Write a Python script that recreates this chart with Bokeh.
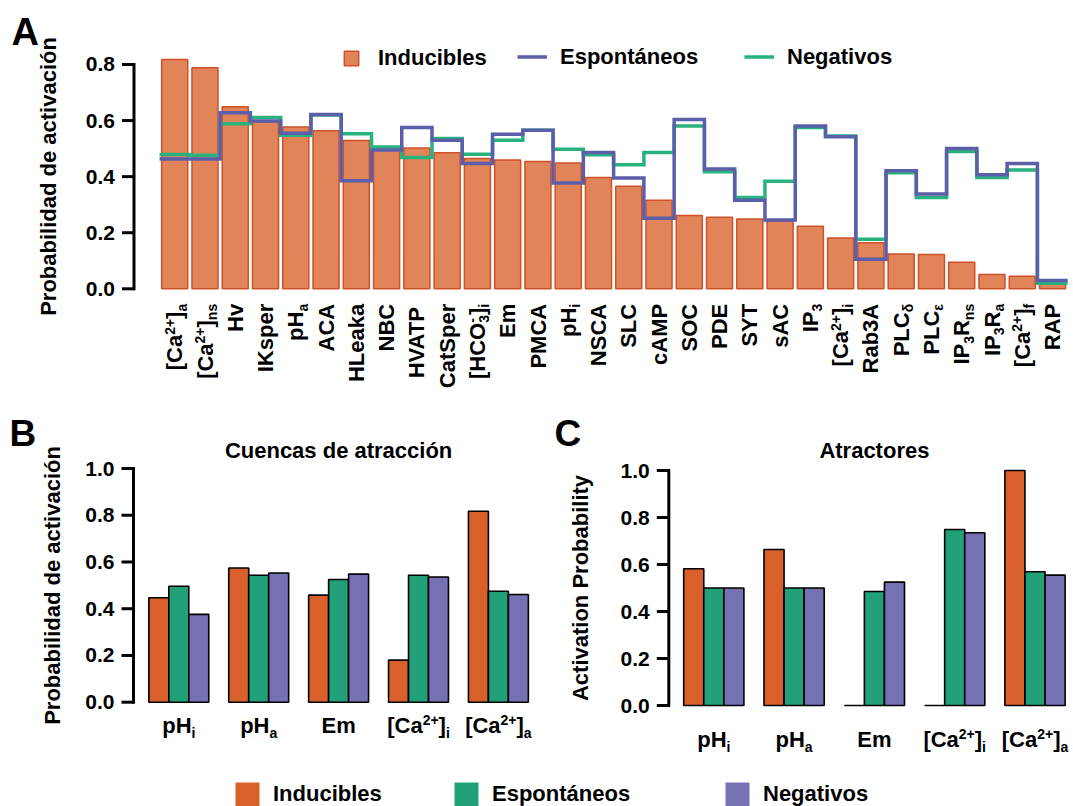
import re
import numpy as np
from bokeh.plotting import figure
from bokeh.models import (Range1d, LinearAxis, FixedTicker, NumeralTickFormatter,
                          Legend, LegendItem, ColumnDataSource)
from bokeh.layouts import column, row
from bokeh.transform import dodge
from bokeh.embed import file_html
from bokeh.resources import INLINE
from bokeh.core.properties import value

# ---------------------------------------------------------------- data
categories_A = ["[Ca^{2+}]_{a}", "[Ca^{2+}]_{ns}", "Hv", "IKsper", "pH_{a}", "ACA", "HLeaka",
                "NBC", "HVATP", "CatSper", "[HCO^{-}_{3}]_{i}", "Em", "PMCA", "pH_{i}", "NSCA",
                "SLC", "cAMP", "SOC", "PDE", "SYT", "sAC", "IP_{3}", "[Ca^{2+}]_{i}", "Rab3A",
                "PLC_{δ}", "PLC_{ε}", "IP_{3}R_{ns}", "IP_{3}R_{a}", "[Ca^{2+}]_{f}", "RAP"]
inducibles_A = [0.818, 0.788, 0.649, 0.596, 0.577, 0.564, 0.529, 0.495, 0.502, 0.485,
                0.465, 0.459, 0.454, 0.449, 0.397, 0.366, 0.316, 0.261, 0.255, 0.249,
                0.241, 0.223, 0.181, 0.164, 0.124, 0.122, 0.095, 0.051, 0.045, 0.018]
espontaneos_A = [0.463, 0.463, 0.628, 0.598, 0.555, 0.622, 0.385, 0.495, 0.575, 0.530,
                 0.447, 0.551, 0.565, 0.377, 0.486, 0.395, 0.252, 0.604, 0.427, 0.316,
                 0.245, 0.581, 0.542, 0.105, 0.421, 0.338, 0.500, 0.407, 0.447, 0.030]
negativos_A = [0.479, 0.476, 0.589, 0.611, 0.548, 0.620, 0.553, 0.506, 0.468, 0.536,
               0.480, 0.530, 0.565, 0.498, 0.478, 0.442, 0.486, 0.581, 0.417, 0.326,
               0.384, 0.575, 0.545, 0.177, 0.414, 0.326, 0.490, 0.397, 0.424, 0.020]

categories_BC = ["pH_{i}", "pH_{a}", "Em", "[Ca^{2+}]_{i}", "[Ca^{2+}]_{a}"]
inducibles_B = [0.447, 0.574, 0.458, 0.180, 0.817]
espontaneos_B = [0.496, 0.543, 0.525, 0.543, 0.475]
negativos_B = [0.376, 0.553, 0.548, 0.536, 0.461]
inducibles_C = [0.582, 0.664, 0.0, 0.0, 1.0]
espontaneos_C = [0.500, 0.500, 0.485, 0.749, 0.569]
negativos_C = [0.500, 0.500, 0.525, 0.735, 0.555]

yticks_A = [0.0, 0.2, 0.4, 0.6, 0.8]
yticks_BC = [0.0, 0.2, 0.4, 0.6, 0.8, 1.0]
series = ["Inducibles", "Espontáneos", "Negativos"]
title_B = "Cuencas de atracción"
title_C = "Atractores"
ylabel_AB = "Probabilidad de activación"
ylabel_C = "Activation Probability"

# ---------------------------------------------------------------- style
FONT = "Liberation Sans"
A_FILL, A_EDGE = "#e2845a", "#cf5127"
A_BLUE, A_GREEN = "#5b5ea9", "#29b27e"
ORANGE, GREEN, PURPLE = "#d9602a", "#22a077", "#7571b3"
BASE_FIX = 0.36   # the svg text baseline sits this many em lower than "alphabetic"

CW = {' ': 278, '[': 333, ']': 333, '+': 584, '-': 333, 'δ': 611, 'ε': 495}
CW.update({d: 556 for d in "0123456789"})
CW.update(dict(zip("ABCDEFGHIJKLMNOPQRSTUVWXYZ",
                   [722, 722, 722, 722, 667, 611, 778, 722, 278, 556, 722, 611, 833, 722, 778,
                    667, 778, 722, 667, 611, 722, 667, 944, 667, 667, 611])))
CW.update(dict(zip("abcdefghijklmnopqrstuvwxyz",
                   [556, 611, 556, 611, 556, 333, 611, 611, 278, 278, 556, 278, 889, 611, 611,
                    611, 611, 389, 556, 333, 611, 556, 778, 556, 556, 500])))


def tw(s, size):
    return sum(CW.get(c, 600) for c in s) * size / 1000.0


def pieces(label, base=22, small=14):
    toks = re.findall(r'\^\{[^}]*\}|_\{[^}]*\}|[^^_]+', label)
    segs = []
    for t in toks:
        if t.startswith('^{'):
            segs.append((t[2:-1], 'sup'))
        elif t.startswith('_{'):
            segs.append((t[2:-1], 'sub'))
        else:
            segs.append((t, 'base'))
    out, pos, i = [], 0.0, 0
    while i < len(segs):
        t, k = segs[i]
        if k == 'sup' and i + 1 < len(segs) and segs[i + 1][1] == 'sub':
            t2 = segs[i + 1][0]
            out.append((t, 'sup', pos, small))
            out.append((t2, 'sub', pos, small))
            pos += max(tw(t, small), tw(t2, small))
            i += 2
            continue
        size = base if k == 'base' else small
        out.append((t, k, pos, size))
        pos += tw(t, size)
        i += 1
    return out, pos


class Panel:
    """Figure at page px (left, top); data 0 sits at page px (x0, y0); ppx / ppy are px per unit."""
    def __init__(self, left, top, width, height, x0=0.0, ppx=1.0, y0=0.0, ppy=1.0):
        self.left, self.top, self.width, self.height = left, top, width, height
        self.x0, self.ppx, self.y0, self.ppy = x0, ppx, y0, ppy

    def xr(self):
        return Range1d(self.dx(self.left), self.dx(self.left + self.width))

    def yr(self):
        return Range1d(self.dy(self.top + self.height), self.dy(self.top))

    def dx(self, ax):
        return (ax - self.x0) / self.ppx

    def dy(self, ay):
        return (self.y0 - ay) / self.ppy


def make_fig(P):
    p = figure(width=P.width, height=P.height, x_range=P.xr(), y_range=P.yr(),
               x_axis_type=None, y_axis_type=None, output_backend="svg",
               toolbar_location=None, min_border=0)
    p.title.visible = False
    p.outline_line_color = None
    p.background_fill_color = "white"
    p.border_fill_color = "white"
    return p


def add_yaxis(p, P, axis_x, ticks, label, standoff):
    loc = P.dx(axis_x)
    ax = LinearAxis(fixed_location=loc, bounds=(ticks[0], ticks[-1]),
                    ticker=FixedTicker(ticks=ticks),
                    formatter=NumeralTickFormatter(format="0.0"), axis_label=label)
    ax.axis_line_color = None
    ax.major_tick_line_color = None
    ax.major_tick_out = 12
    ax.major_tick_in = 0
    ax.minor_tick_line_color = None
    ax.major_label_text_font = FONT
    ax.major_label_text_font_style = "bold"
    ax.major_label_text_font_size = "21px"
    ax.major_label_text_color = "black"
    ax.major_label_standoff = 7
    ax.axis_label_text_font = FONT
    ax.axis_label_text_font_style = "bold"
    ax.axis_label_text_font_size = "22px"
    ax.axis_label_text_color = "black"
    ax.axis_label_standoff = standoff
    p.add_layout(ax, "left")
    # axis rule and tick marks as filled strips through the same scales, painted above guides
    n = len(ticks)
    hw = 1.5 / P.ppx
    hh = 1.5 / P.ppy
    rule = p.quad(left=[loc - hw], right=[loc + hw], bottom=[ticks[0] - hh],
                  top=[ticks[-1] + hh], fill_color="black", line_color=None)
    tk = p.quad(left=[loc - 12.0 / P.ppx] * n, right=[loc] * n,
                bottom=[t - hh for t in ticks], top=[t + hh for t in ticks],
                fill_color="black", line_color=None)
    rule.level = "annotation"
    tk.level = "annotation"


def add_text(p, xs, ys, texts, sizes, angle=0.0, align="left"):
    src = ColumnDataSource(dict(x=xs, y=ys, text=texts, size=sizes))
    p.text(x="x", y="y", text="text", text_font_size="size", source=src, angle=angle,
           text_align=align, text_baseline="alphabetic", text_font=value(FONT),
           text_font_style="bold", text_color="black")


def rotated_labels(p, P, cats, gap):
    xs, ys, ts, ss = [], [], [], []
    for i, lab in enumerate(cats):
        segs, L = pieces(lab)
        for t, kind, s, size in segs:
            shift = {'base': 0, 'sup': -8, 'sub': 4}[kind]
            xs.append(P.dx(P.x0 + i * P.ppx + 8 + shift - BASE_FIX * size))
            ys.append(P.dy(P.y0 + gap + (L - s)))
            ts.append(t)
            ss.append(f"{size}px")
    add_text(p, xs, ys, ts, ss, angle=np.pi / 2)


def flat_labels(p, P, cats, baseline):
    xs, ys, ts, ss = [], [], [], []
    for g, lab in enumerate(cats):
        segs, L = pieces(lab)
        for t, kind, s, size in segs:
            shift = {'base': 0, 'sup': -8, 'sub': 5}[kind]
            xs.append(P.dx(P.x0 + g * P.ppx - L / 2 + s))
            ys.append(P.dy(baseline + shift - BASE_FIX * size))
            ts.append(t)
            ss.append(f"{size}px")
    add_text(p, xs, ys, ts, ss)


def plain_text(p, P, txt, x_abs, baseline, size, align="left"):
    add_text(p, [P.dx(x_abs)], [P.dy(baseline - BASE_FIX * size)], [txt], [f"{size}px"],
             align=align)


def add_legend(p, P, renderer, label, glyph_left, top, item_h, gw, gh, standoff):
    loc = (glyph_left - P.left, (P.top + P.height) - (top + item_h))
    lg = Legend(items=[LegendItem(label=value(label), renderers=[renderer])], location=loc,
                orientation="horizontal", padding=0, margin=0, spacing=0,
                border_line_color=None, background_fill_alpha=0,
                glyph_width=int(gw), glyph_height=int(gh), label_standoff=int(round(standoff)),
                label_text_font=FONT, label_text_font_style="bold",
                label_text_font_size="22px", label_text_color="black")
    p.add_layout(lg)


# ---------------------------------------------------------------- panel A
PA = Panel(0, 0, 1073, 410, x0=174.2, ppx=30.27, y0=288.3, ppy=280.4)
pA = make_fig(PA)
idx = np.arange(len(categories_A))
srcA = ColumnDataSource(dict(x=idx, ind=inducibles_A))
barsA = pA.vbar(x="x", top="ind", width=0.86, source=srcA, fill_color=A_FILL,
                line_color=A_EDGE, line_width=1.5)
edges = np.arange(len(categories_A) + 1) - 0.5
negA = pA.step(x=edges, y=np.append(negativos_A, negativos_A[-1]), mode="after",
               line_color=A_GREEN, line_width=3.5, line_join="miter")
espA = pA.step(x=edges, y=np.append(espontaneos_A, espontaneos_A[-1]), mode="after",
               line_color=A_BLUE, line_width=3.5, line_join="miter")
add_yaxis(pA, PA, 133.5, yticks_A, ylabel_AB, 22)
rotated_labels(pA, PA, categories_A, 15)
plain_text(pA, PA, "A", 11, 45, 38)
add_legend(pA, PA, barsA, series[0], 342, 46, 25, 18, 18, 18)
add_legend(pA, PA, espA, series[1], 517, 44.5, 25, 30, 25, 13)
add_legend(pA, PA, negA, series[2], 744, 44.5, 25, 30, 25, 13)

# ---------------------------------------------------------------- panels B and C
BW = 0.25


def grouped(P, ind, esp, neg, title, ylabel, axis_x, standoff, label_base, let, let_left):
    p = make_fig(P)
    src = ColumnDataSource(dict(x=np.arange(len(ind)), ind=ind, esp=esp, neg=neg))
    for field, off, col in (("ind", -BW, ORANGE), ("esp", 0.0, GREEN), ("neg", BW, PURPLE)):
        p.vbar(x=dodge("x", off), top=field, width=BW, source=src, fill_color=col,
               line_color="black", line_width=1.6)
    add_yaxis(p, P, axis_x, yticks_BC, ylabel, standoff)
    flat_labels(p, P, categories_BC, label_base)
    plain_text(p, P, title, P.x0 + 2 * P.ppx, 458, 22, align="center")
    plain_text(p, P, let, let_left, 446, 37)
    return p


PB = Panel(0, 410, 553, 358, x0=178.3, ppx=79.9, y0=701.7, ppy=233.7)
pB = grouped(PB, inducibles_B, espontaneos_B, negativos_B, title_B, ylabel_AB,
             133.0, 17, 733, "B", 9)
PC = Panel(553, 410, 520, 358, x0=713.3, ppx=80.3, y0=705.0, ppy=235.0)
pC = grouped(PC, inducibles_C, espontaneos_C, negativos_C, title_C, ylabel_C,
             668.3, 24, 747, "C", 554)

# ---------------------------------------------------------------- bottom legend
PL = Panel(0, 768, 1073, 38, x0=0.0, ppx=1.0, y0=806.0, ppy=1.0)
pL = make_fig(PL)
proxies = [pL.vbar(x=[np.nan], top=[np.nan], width=1, fill_color=c, line_color=None)
           for c in (ORANGE, GREEN, PURPLE)]
for r, name, gl in zip(proxies, series, (232, 451, 722)):
    add_legend(pL, PL, r, name, gl, 779, 30, 30, 30, 11)

layout = column(pA, row(pB, pC), pL)
open("out.html", "w").write(file_html(layout, INLINE, title="Probabilidad de activación"))
